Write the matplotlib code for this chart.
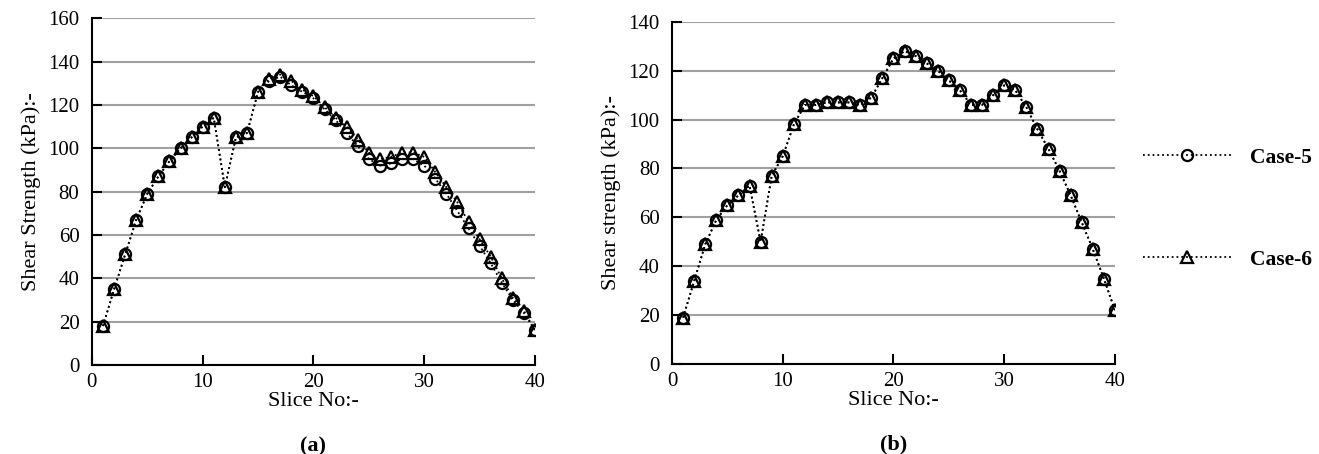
import numpy as np
import matplotlib
matplotlib.use('Agg')
import matplotlib.pyplot as plt
from matplotlib.lines import Line2D

plt.rcParams['font.family'] = ['Liberation Serif', 'DejaVu Serif']

slices = np.arange(1, 41)

# panel (a)
a_case5 = [18, 35, 51, 67, 79, 87, 94, 100, 105, 110,
           114, 82, 105, 107, 126, 131, 133, 129, 126, 123,
           118, 113, 107, 101, 95, 92, 93, 95, 95, 92,
           86, 79, 71, 63, 55, 47, 38, 30, 24, 16]
a_case6 = [18, 35, 51, 67, 79, 87, 94, 100, 105, 110,
           114, 82, 105, 107, 126, 132, 134, 131, 127, 124,
           119, 114, 110, 104, 98, 95, 96, 98, 98, 96,
           89, 82, 75, 66, 58, 50, 40, 31, 25, 16]

# panel (b)
b_case5 = [19, 34, 49, 59, 65, 69, 73, 50, 77, 85,
           98, 106, 106, 107, 107, 107, 106, 109, 117, 125,
           128, 126, 123, 120, 116, 112, 106, 106, 110, 114,
           112, 105, 96, 88, 79, 69, 58, 47, 35, 22]
b_case6 = [19, 34, 49, 59, 65, 69, 73, 50, 77, 85,
           98, 106, 106, 107, 107, 107, 106, 109, 117, 125,
           128, 126, 123, 120, 116, 112, 106, 106, 110, 114,
           112, 105, 96, 88, 79, 69, 58, 47, 35, 22]

fig = plt.figure(figsize=(13.19, 4.54), dpi=100)
ax1 = fig.add_axes([0.0697, 0.196, 0.3359, 0.764])
ax2 = fig.add_axes([0.5095, 0.198, 0.3358, 0.754])

panels = [
    (ax1, a_case5, a_case6, 160, 'Shear Strength (kPa):-', '(a)'),
    (ax2, b_case5, b_case6, 140, 'Shear strength (kPa):-', '(b)'),
]

for ax, c5, c6, ymax, ylab, tag in panels:
    ax.plot(slices, c5, ls=':', color='black', lw=1.3, marker='o',
            ms=8, mfc='none', mec='black', mew=1.6, zorder=3)
    ax.plot(slices, c6, ls=':', color='black', lw=1.3, marker='^',
            ms=8, mfc='none', mec='black', mew=1.6, zorder=3)
    ax.set_xlim(0, 40)
    ax.set_ylim(0, ymax)
    ax.set_xticks([0, 10, 20, 30, 40])
    ax.set_yticks(np.arange(0, ymax + 1, 20))
    ax.yaxis.grid(True, color='#a0a0a0', lw=1.5)
    ax.set_axisbelow(True)
    for s in ['top', 'right']:
        ax.spines[s].set_visible(False)
    for s in ['left', 'bottom']:
        ax.spines[s].set_linewidth(1.5)
    ax.tick_params(direction='in', length=7, width=1.5, labelsize=15, pad=6)
    ax.tick_params(axis='y', pad=9)
    ax.set_xlabel('Slice No:-', fontsize=16, labelpad=0)
    ax.set_ylabel(ylab, fontsize=16, labelpad=5)
    ax.text(0.5, -0.205, tag, transform=ax.transAxes, ha='center', va='top',
            fontsize=16, fontweight='bold')

# legend drawn at the right side
h5 = Line2D([], [], ls=':', color='black', lw=1.3, marker='o', ms=8,
            mfc='none', mec='black', mew=1.6)
h6 = Line2D([], [], ls=':', color='black', lw=1.3, marker='^', ms=8,
            mfc='none', mec='black', mew=1.6)
leg = fig.legend([h5, h6], ['Case-5', 'Case-6'], loc='center left',
                 bbox_to_anchor=(0.852, 0.54), frameon=False,
                 handlelength=4.1, labelspacing=3.8, handletextpad=0.85,
                 prop={'weight': 'bold', 'size': 15.5})

fig.savefig('out.png', dpi=100)
